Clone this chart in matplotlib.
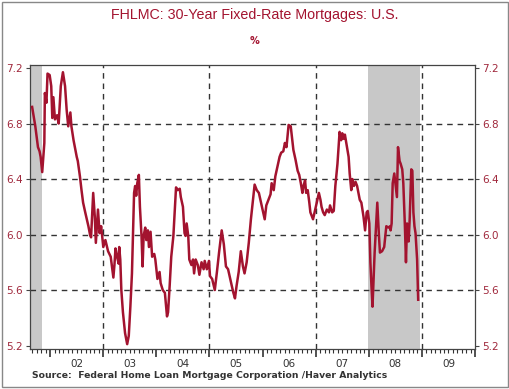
import matplotlib

matplotlib.use("Agg")
import matplotlib.pyplot as plt
import matplotlib.transforms as mtransforms
from matplotlib.patches import Rectangle
import numpy as np

# weekly-ish readings, decimal years
DATES = [
    2001.66, 2001.72, 2001.77, 2001.80, 2001.82, 2001.85, 2001.89, 2001.90, 2001.93, 2001.95,
    2001.99, 2002.02, 2002.04, 2002.06, 2002.09, 2002.13, 2002.16, 2002.20, 2002.24, 2002.28,
    2002.31, 2002.34, 2002.38, 2002.40, 2002.44, 2002.50, 2002.52, 2002.56, 2002.59, 2002.62,
    2002.66, 2002.72, 2002.75, 2002.77, 2002.81, 2002.84, 2002.86, 2002.90, 2002.93, 2002.96,
    2003.00, 2003.04, 2003.09, 2003.14, 2003.19, 2003.21, 2003.23, 2003.26, 2003.29, 2003.30,
    2003.32, 2003.34, 2003.37, 2003.41, 2003.45, 2003.48, 2003.51, 2003.54, 2003.58, 2003.60,
    2003.62, 2003.64, 2003.67, 2003.69, 2003.72, 2003.74, 2003.76, 2003.79, 2003.81, 2003.84,
    2003.86, 2003.89, 2003.92, 2003.96, 2003.98, 2004.02, 2004.06, 2004.08, 2004.12, 2004.16,
    2004.20, 2004.22, 2004.25, 2004.28, 2004.32, 2004.35, 2004.37, 2004.40, 2004.44, 2004.46,
    2004.50, 2004.53, 2004.55, 2004.57, 2004.60, 2004.62, 2004.66, 2004.69, 2004.71, 2004.74,
    2004.78, 2004.81, 2004.85, 2004.89, 2004.91, 2004.95, 2004.99, 2005.01, 2005.05, 2005.10,
    2005.14, 2005.18, 2005.23, 2005.27, 2005.31, 2005.35, 2005.39, 2005.42, 2005.45, 2005.48,
    2005.51, 2005.55, 2005.59, 2005.63, 2005.66, 2005.70, 2005.74, 2005.78, 2005.82, 2005.85,
    2005.89, 2005.93, 2005.97, 2006.00, 2006.04, 2006.07, 2006.11, 2006.15, 2006.17, 2006.21,
    2006.24, 2006.28, 2006.32, 2006.35, 2006.39, 2006.42, 2006.45, 2006.47, 2006.49, 2006.53,
    2006.55, 2006.58, 2006.62, 2006.66, 2006.69, 2006.72, 2006.75, 2006.77, 2006.80, 2006.82,
    2006.85, 2006.88, 2006.90, 2006.95, 2006.98, 2007.02, 2007.06, 2007.09, 2007.11, 2007.14,
    2007.17, 2007.21, 2007.25, 2007.27, 2007.31, 2007.34, 2007.37, 2007.41, 2007.45, 2007.48,
    2007.50, 2007.53, 2007.55, 2007.59, 2007.62, 2007.64, 2007.67, 2007.69, 2007.72, 2007.75,
    2007.78, 2007.83, 2007.86, 2007.90, 2007.93, 2007.96, 2007.98, 2008.01, 2008.03, 2008.05,
    2008.07, 2008.09, 2008.11, 2008.14, 2008.16, 2008.19, 2008.21, 2008.25, 2008.29, 2008.33,
    2008.37, 2008.40, 2008.41, 2008.43, 2008.44, 2008.45, 2008.48, 2008.50, 2008.53, 2008.55,
    2008.58, 2008.60, 2008.63, 2008.65, 2008.68, 2008.70, 2008.72, 2008.75, 2008.77, 2008.80,
    2008.82, 2008.84, 2008.86, 2008.88, 2008.91, 2008.93,
]

RATES = [
    6.92, 6.78, 6.63, 6.60, 6.56, 6.45, 6.66, 7.02, 6.95, 7.16,
    7.15, 7.07, 6.84, 6.99, 6.83, 6.86, 6.80, 7.07, 7.17, 7.07,
    6.90, 6.78, 6.88, 6.78, 6.68, 6.56, 6.53, 6.42, 6.32, 6.23,
    6.16, 6.06, 6.00, 5.98, 6.30, 6.13, 5.94, 6.18, 6.01, 6.06,
    5.91, 5.96, 5.88, 5.84, 5.69, 5.78, 5.90, 5.84, 5.79, 5.91,
    5.82, 5.60, 5.44, 5.29, 5.21, 5.27, 5.48, 5.72, 6.30, 6.35,
    6.28, 6.37, 6.43, 6.20, 5.99, 5.77, 5.99, 6.05, 5.96, 6.03,
    5.91, 6.02, 5.84, 5.86, 5.82, 5.68, 5.73, 5.65, 5.60, 5.58,
    5.41, 5.44, 5.63, 5.84, 5.99, 6.20, 6.34, 6.32, 6.33, 6.27,
    6.20, 6.01, 5.99, 6.08, 5.99, 5.82, 5.78, 5.82, 5.72, 5.82,
    5.78, 5.71, 5.80, 5.75, 5.81, 5.75, 5.81, 5.70, 5.68, 5.60,
    5.73, 5.87, 6.03, 5.93, 5.77, 5.75, 5.68, 5.63, 5.58, 5.54,
    5.63, 5.73, 5.88, 5.77, 5.72, 5.80, 5.94, 6.11, 6.25, 6.36,
    6.32, 6.30, 6.23, 6.18, 6.11, 6.21, 6.25, 6.29, 6.37, 6.32,
    6.42, 6.49, 6.56, 6.59, 6.60, 6.66, 6.63, 6.71, 6.79, 6.78,
    6.71, 6.61, 6.54, 6.46, 6.43, 6.37, 6.30, 6.35, 6.39, 6.30,
    6.32, 6.23, 6.16, 6.11, 6.16, 6.23, 6.30, 6.25, 6.20, 6.16,
    6.14, 6.18, 6.16, 6.21, 6.16, 6.17, 6.35, 6.51, 6.74, 6.68,
    6.73, 6.69, 6.72, 6.63, 6.56, 6.44, 6.32, 6.40, 6.35, 6.38,
    6.35, 6.25, 6.23, 6.13, 6.03, 6.16, 6.17, 6.08, 5.80, 5.63,
    5.48, 5.68, 5.87, 6.08, 6.23, 6.00, 5.87, 5.88, 5.91, 6.06,
    6.05, 6.06, 6.03, 6.08, 6.23, 6.37, 6.44, 6.37, 6.27, 6.63,
    6.53, 6.51, 6.47, 6.37, 6.06, 5.80, 6.08, 5.95, 6.11, 6.47,
    6.46, 6.16, 6.06, 6.01, 5.82, 5.53,
]

RECESSIONS = [(2001.60, 2001.85), (2007.98, 2008.97)]
YEAR_LABELS = ["02", "03", "04", "05", "06", "07", "08", "09"]
Y_TICKS = [5.2, 5.6, 6.0, 6.4, 6.8, 7.2]

RED = "#a3132f"
TICK_RED = "#a0283c"

fig = plt.figure(figsize=(5.10, 3.89), dpi=100)
ax = fig.add_axes([30 / 510, 1 - 349 / 389, 445 / 510, 284 / 389])

for start, end in RECESSIONS:
    ax.axvspan(start, end, color="#c8c8c8", lw=0, zorder=0)

for y in [5.6, 6.0, 6.4, 6.8]:
    ax.axhline(y, color="#333333", lw=1.0, ls=(0, (4, 3.5)), zorder=1)
for x in [2003, 2005, 2007, 2009]:
    ax.axvline(x, color="#333333", lw=1.0, ls=(0, (4, 3.5)), zorder=1)

ax.plot(DATES, RATES, color=RED, lw=1.8, zorder=3)

ax.set_xlim(2001.62, 2010.0)
ax.set_ylim(5.175, 7.222)

ax.set_yticks(Y_TICKS)
ax.set_yticklabels([f"{v:.1f}" for v in Y_TICKS])
ax.tick_params(axis="y", left=True, right=True, labelleft=True, labelright=True,
               direction="out", length=3, width=0.8, colors="#444444",
               labelcolor=TICK_RED, labelsize=7.5, pad=2)

years = np.arange(2002, 2011)
months = np.arange(2001 + 8 / 12, 2010.0, 1 / 12)
ax.set_xticks(years)
ax.set_xticklabels([])
ax.set_xticks(months, minor=True)
ax.tick_params(axis="x", which="major", direction="out", length=6, width=1.2, colors="#333333")
ax.tick_params(axis="x", which="minor", direction="out", length=3, width=0.8, colors="#333333")

trans = mtransforms.blended_transform_factory(ax.transData, ax.transAxes)
for yr, lab in zip(years[:-1], YEAR_LABELS):
    ax.text(yr + 0.5, -0.035, lab, transform=trans, ha="center", va="top",
            fontsize=7.5, color="#333333")

for spine in ax.spines.values():
    spine.set_color("#444444")
    spine.set_linewidth(0.9)

fig.text(0.5, 1 - 15 / 389, "FHLMC: 30-Year Fixed-Rate Mortgages: U.S.", ha="center", va="center",
         fontsize=10.3, color=RED, family="Liberation Sans")
fig.text(0.5, 1 - 41 / 389, "%", ha="center", va="center", fontsize=7, color=RED,
         fontweight="bold")
fig.text(32 / 510, 1 - 376 / 389, "Source:  Federal Home Loan Mortgage Corporation /Haver Analytics",
         ha="left", va="center", fontsize=6.65, color="#333333", fontweight="bold")

fig.patches.append(Rectangle((2 / 510, 2 / 389), 506 / 510, 385 / 389, transform=fig.transFigure,
                             fill=False, edgecolor="#888888", lw=1.0))

fig.savefig("out.png", dpi=100)
